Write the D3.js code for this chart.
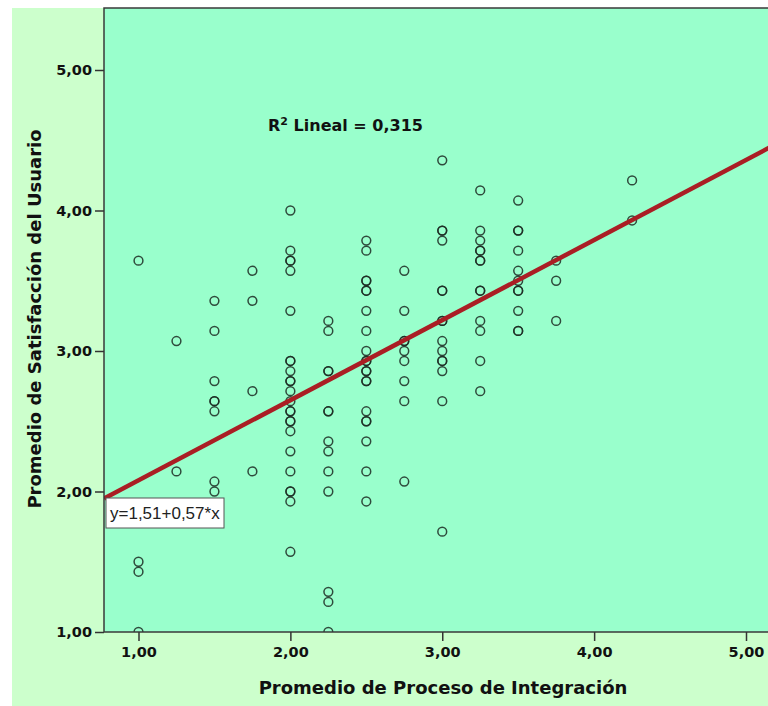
<!DOCTYPE html>
<html>
<head>
<meta charset="utf-8">
<script src="https://cdn.jsdelivr.net/npm/d3@7"></script>
<style>
  body { margin: 0; background: #fff; }
  svg { display: block; }
</style>
</head>
<body>
<svg width="768" height="706"></svg>
<script>
// x columns (Promedio de Proceso de Integración) and the y values seen in each column
const procesoCols = [1.00, 1.25, 1.50, 1.75, 2.00, 2.25, 2.50, 2.75, 3.00, 3.25, 3.50, 3.75, 4.25];
const satisfaccionCols = [
  [3.643, 1.500, 1.429, 1.000],
  [3.071, 2.143],
  [3.357, 3.143, 2.786, 2.643, 2.643, 2.571, 2.071, 2.000],
  [3.571, 3.357, 2.714, 2.143],
  [4.000, 3.714, 3.643, 3.643, 3.571, 3.286, 2.929, 2.929, 2.857, 2.786, 2.786, 2.714,
   2.643, 2.571, 2.571, 2.500, 2.500, 2.429, 2.286, 2.143, 2.000, 2.000, 1.929, 1.571],
  [3.214, 3.143, 2.857, 2.857, 2.571, 2.571, 2.357, 2.286, 2.143, 2.000, 1.286, 1.214, 1.000],
  [3.786, 3.714, 3.500, 3.500, 3.429, 3.429, 3.286, 3.143, 3.000, 2.929, 2.929, 2.857,
   2.857, 2.786, 2.786, 2.571, 2.500, 2.500, 2.357, 2.143, 1.929],
  [3.571, 3.286, 3.071, 3.071, 3.000, 2.929, 2.786, 2.643, 2.071],
  [4.357, 3.857, 3.857, 3.786, 3.429, 3.429, 3.214, 3.214, 3.071, 3.000, 2.929, 2.929,
   2.857, 2.643, 1.714],
  [4.143, 3.857, 3.786, 3.714, 3.714, 3.643, 3.643, 3.429, 3.429, 3.214, 3.143, 2.929, 2.714],
  [4.071, 3.857, 3.857, 3.714, 3.571, 3.500, 3.429, 3.429, 3.286, 3.143, 3.143],
  [3.643, 3.500, 3.214],
  [4.214, 3.929]
];
const xTicks = [1, 2, 3, 4, 5];
const yTicks = [1, 2, 3, 4, 5];
const fitIntercept = 1.51;
const fitSlope = 0.57;
const r2Text = "0,315";
const eqText = "y=1,51+0,57*x";
const xTitle = "Promedio de Proceso de Integración";
const yTitle = "Promedio de Satisfacción del Usuario";

const plotLeft = 104, plotTop = 8, plotRight = 790, plotBottom = 632;
const boldFont = "'DejaVu Sans', Verdana, sans-serif";

const svg = d3.select("svg");
const x = d3.scaleLinear([1, 5], [138.5, 746]);
const y = d3.scaleLinear([1, 5], [632, 70]);
const fmt = v => d3.format(".2f")(v).replace(".", ",");

const points = procesoCols.flatMap((px, i) => satisfaccionCols[i].map(py => ({ px, py })));

// backgrounds
svg.append("rect")
    .attr("x", 12).attr("y", plotTop)
    .attr("width", 768 - 12).attr("height", 706 - plotTop)
    .attr("fill", "#ccffcc");

svg.append("defs").append("clipPath").attr("id", "plot-clip")
    .append("rect")
    .attr("x", plotLeft).attr("y", plotTop)
    .attr("width", plotRight - plotLeft).attr("height", plotBottom - plotTop);

svg.append("rect")
    .attr("x", plotLeft).attr("y", plotTop)
    .attr("width", plotRight - plotLeft).attr("height", plotBottom - plotTop)
    .attr("fill", "#99ffcc");

const plot = svg.append("g").attr("clip-path", "url(#plot-clip)");

plot.selectAll(".pt")
    .data(points)
    .join("circle")
    .attr("class", "pt")
    .attr("cx", d => x(d.px))
    .attr("cy", d => y(d.py))
    .attr("r", 4.4)
    .attr("fill", "none")
    .attr("stroke", "#1c2a22")
    .attr("stroke-opacity", 0.85)
    .attr("stroke-width", 1.5);

// fit line
const xLo = x.invert(plotLeft), xHi = x.invert(plotRight);
const line = d3.line().x(d => x(d)).y(d => y(fitIntercept + fitSlope * d));
plot.append("path")
    .attr("d", line([xLo, xHi]))
    .attr("fill", "none")
    .attr("stroke", "#aa1e24")
    .attr("stroke-width", 4.5);

// frame
svg.append("path")
    .attr("d", `M${plotRight},${plotTop}H${plotLeft}V${plotBottom}H${plotRight}`)
    .attr("fill", "none")
    .attr("stroke", "#3a3a3a")
    .attr("stroke-width", 1.5);

// equation label
const eqBox = svg.append("g").attr("transform", `translate(106,498)`);
eqBox.append("rect")
    .attr("width", 118).attr("height", 30)
    .attr("fill", "#fff")
    .attr("stroke", "#555").attr("stroke-width", 1);
eqBox.append("text")
    .attr("x", 4).attr("y", 21)
    .attr("font-family", "'Liberation Sans', Arial, sans-serif")
    .attr("font-size", 17)
    .attr("fill", "#222")
    .text(eqText);

// R² label
const r2 = svg.append("text")
    .attr("x", 268).attr("y", 131)
    .attr("font-family", boldFont)
    .attr("font-weight", "bold")
    .attr("font-size", 16)
    .attr("fill", "#111");
r2.append("tspan").text("R");
r2.append("tspan").attr("dy", -6).attr("font-size", 11).text("2");
r2.append("tspan").attr("dy", 6).text(" Lineal = " + r2Text);

// axes
const styleAxis = g => {
    g.select(".domain").remove();
    g.selectAll(".tick line").attr("stroke", "#333").attr("stroke-width", 1.5);
    g.selectAll(".tick text")
        .attr("font-family", boldFont)
        .attr("font-weight", "bold")
        .attr("font-size", 14.5)
        .attr("fill", "#111");
};

svg.append("g")
    .attr("transform", `translate(${plotLeft},0)`)
    .call(d3.axisLeft(y).tickValues(yTicks).tickFormat(fmt).tickSize(9).tickPadding(3))
    .call(styleAxis);

svg.append("g")
    .attr("transform", `translate(0,${plotBottom})`)
    .call(d3.axisBottom(x).tickValues(xTicks).tickFormat(fmt).tickSize(9).tickPadding(6))
    .call(styleAxis);

// titles
svg.append("text")
    .attr("x", 443).attr("y", 694)
    .attr("text-anchor", "middle")
    .attr("font-family", boldFont)
    .attr("font-weight", "bold")
    .attr("font-size", 18)
    .attr("fill", "#111")
    .text(xTitle);

svg.append("text")
    .attr("transform", "translate(41,319) rotate(-90)")
    .attr("text-anchor", "middle")
    .attr("font-family", boldFont)
    .attr("font-weight", "bold")
    .attr("font-size", 18)
    .attr("fill", "#111")
    .text(yTitle);
</script>
</body>
</html>
